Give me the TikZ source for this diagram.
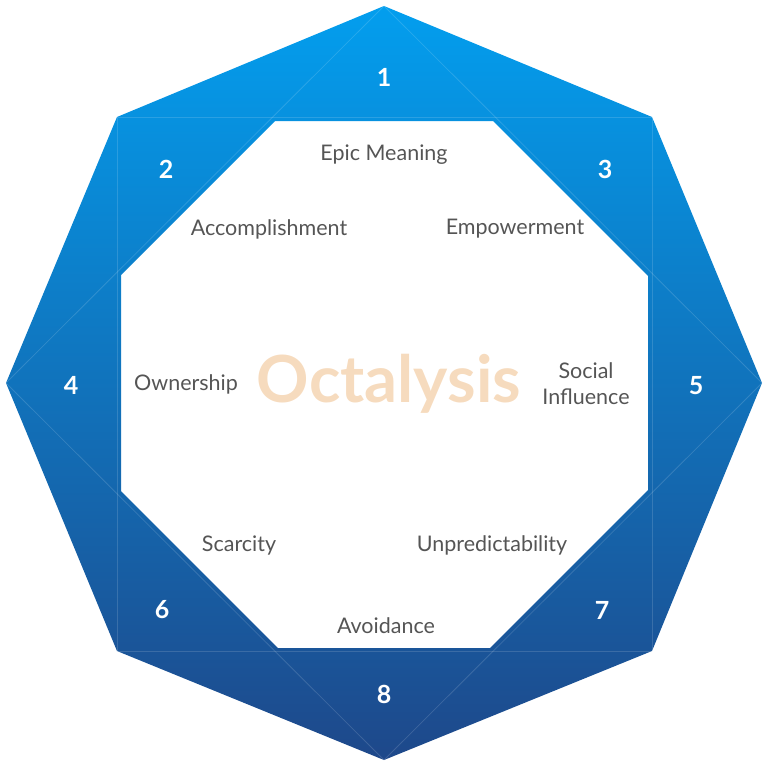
\documentclass[tikz,border=0pt]{standalone}
\usepackage{fontspec}
\setmainfont{Lato}
\definecolor{octtop}{RGB}{3,158,238}
\definecolor{octbottom}{RGB}{30,72,138}
\definecolor{octtext}{RGB}{85,85,85}
\definecolor{octtitle}{RGB}{246,219,190}
\tikzset{
  drive/.style={text=octtext, font=\fontsize{21.5}{26}\selectfont, align=center, inner sep=0pt},
  corenum/.style={text=white, font=\bfseries\fontsize{25}{28}\selectfont, inner sep=0pt},
  guide/.style={white, opacity=0.14, line width=0.8pt},
}

\begin{document}
\begin{tikzpicture}[x=1pt, y=-1pt]
    \useasboundingbox (0,0) rectangle (768,768);
    % outer corners: square and diamond
    \coordinate (N) at (384,6);
    \coordinate (E) at (762,383);
    \coordinate (S) at (384,760);
    \coordinate (W) at (6,383);
    \coordinate (NW) at (117,117);
    \coordinate (NE) at (652,117);
    \coordinate (SE) at (652,651);
    \coordinate (SW) at (117,651);
    % inner octagon
    \coordinate (i1) at (275,121);
    \coordinate (i2) at (493,121);
    \coordinate (i3) at (648,276);
    \coordinate (i4) at (648,490);
    \coordinate (i5) at (490,648);
    \coordinate (i6) at (278,648);
    \coordinate (i7) at (121,491);
    \coordinate (i8) at (121,275);
    \shade[even odd rule, top color=octtop, bottom color=octbottom]
        (N) -- (NE) -- (E) -- (SE) -- (S) -- (SW) -- (W) -- (NW) -- cycle
        (i1) -- (i2) -- (i3) -- (i4) -- (i5) -- (i6) -- (i7) -- (i8) -- cycle;
    \draw[guide] (NW) -- (NE) -- (SE) -- (SW) -- cycle;
    \draw[guide] (N) -- (E) -- (S) -- (W) -- cycle;
    % numbers
    \node[corenum] (n1) at (384,77) {1};
    \node[corenum] (n2) at (166,169) {2};
    \node[corenum] (n3) at (605,169) {3};
    \node[corenum] (n4) at (71,385) {4};
    \node[corenum] (n5) at (696,386) {5};
    \node[corenum] (n6) at (162,610) {6};
    \node[corenum] (n7) at (602,610) {7};
    \node[corenum] (n8) at (384,694) {8};
    % core drives
    \node[drive] (meaning) at (384,155) {Epic Meaning};
    \node[drive] (accomplish) at (269,229) {Accomplishment};
    \node[drive] (empower) at (515,229) {Empowerment};
    \node[drive] (owner) at (186,384) {Ownership};
    \node[drive] (social) at (586,384) {Social\\Influence};
    \node[drive] (scarce) at (239,545) {Scarcity};
    \node[drive] (unpredict) at (492,545) {Unpredictability};
    \node[drive] (avoid) at (386,626) {Avoidance};
    \node[text=octtitle, font=\bfseries\fontsize{65}{70}\selectfont, inner sep=0pt] (title) at (389,384) {Octalysis};
\end{tikzpicture}
\end{document}
